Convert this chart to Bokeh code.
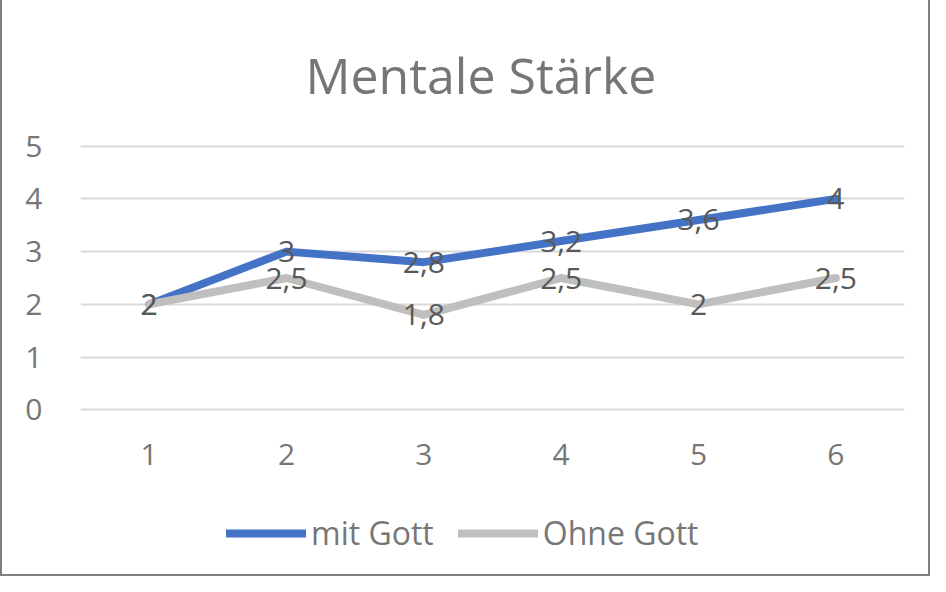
from bokeh.plotting import figure
from bokeh.models import Range1d, FixedTicker, Legend, LegendItem, ColumnDataSource
from bokeh.layouts import column
from bokeh.core.properties import value
from bokeh.embed import file_html
from bokeh.resources import INLINE

title_text = "Mentale Stärke"
categories = [1, 2, 3, 4, 5, 6]
mit_gott = [2, 3, 2.8, 3.2, 3.6, 4]
ohne_gott = [2, 2.5, 1.8, 2.5, 2, 2.5]
series_names = ["mit Gott", "Ohne Gott"]
y_ticks = [0, 1, 2, 3, 4, 5]

FONT = "Open Sans"
BLUE = "#4472C4"
GRAY = "#BFBFBF"
TXT = "#767676"
LBL = "#595959"
BORDER = "2px solid #808080"

def fmt(v):
    s = ("%g" % v)
    return s.replace(".", ",")

p = figure(width=930, height=500, output_backend="svg", toolbar_location=None,
           x_range=Range1d(0.5, 6.5), y_range=Range1d(-0.03, 5.03),
           title=title_text,
           min_border_left=78, min_border_right=28, min_border_top=144, min_border_bottom=89)
p.outline_line_color = None
p.background_fill_color = "white"
p.border_fill_color = "white"
p.styles = {"border-left": BORDER, "border-right": BORDER}

p.title.align = "left"
p.title.text_font = FONT
p.title.text_font_size = "50px"
p.title.text_font_style = "normal"
p.title.text_color = TXT
p.title.standoff = 72
p.title.offset = 225

p.xgrid.grid_line_color = None
p.ygrid.ticker = FixedTicker(ticks=y_ticks)
p.ygrid.grid_line_color = "#D9D9D9"
p.ygrid.grid_line_width = 2

for ax in (p.xaxis[0], p.yaxis[0]):
    ax.axis_line_color = None
    ax.major_tick_line_color = None
    ax.minor_tick_line_color = None
    ax.major_label_text_font = FONT
    ax.major_label_text_font_size = "30px"
    ax.major_label_text_color = TXT
p.xaxis.ticker = FixedTicker(ticks=categories)
p.yaxis.ticker = FixedTicker(ticks=y_ticks)
p.xaxis.major_label_standoff = 26
p.yaxis.major_label_standoff = 32

r1 = p.line(categories, mit_gott, line_color=BLUE, line_width=8, line_join="round", line_cap="round")
r2 = p.line(categories, ohne_gott, line_color=GRAY, line_width=8, line_join="round", line_cap="round")

src = ColumnDataSource(dict(
    x=categories + categories,
    y=mit_gott + ohne_gott,
    t=[fmt(v) for v in mit_gott] + [fmt(v) for v in ohne_gott],
))
p.text(x="x", y="y", text="t", source=src, text_align="center", text_baseline="middle",
       text_font=value(FONT), text_font_size="30px", text_color=LBL)

# legend strip below the chart (proxy renderers lie outside the visible range)
p2 = figure(width=930, height=76, output_backend="svg", toolbar_location=None,
            x_range=Range1d(0, 1), y_range=Range1d(0, 1),
            min_border=0)
p2.axis.visible = False
p2.grid.visible = False
p2.outline_line_color = None
p2.border_fill_color = "white"
p2.styles = {"border-left": BORDER, "border-right": BORDER, "border-bottom": BORDER}
l1 = p2.line(categories[:2], [-10, -10], line_color=BLUE, line_width=8, line_cap="round")
l2 = p2.line(categories[:2], [-10, -10], line_color=GRAY, line_width=8, line_cap="round")

legend = Legend(items=[LegendItem(label=series_names[0], renderers=[l1]),
                       LegendItem(label=series_names[1], renderers=[l2])],
                orientation="horizontal", location=(146, 22),
                glyph_width=80, glyph_height=20, label_standoff=5, spacing=24,
                label_text_font=FONT, label_text_font_size="32px", label_text_color=TXT,
                border_line_color=None, background_fill_alpha=0, padding=0, margin=0)
p2.add_layout(legend, "center")

open("out.html", "w").write(file_html(column(p, p2, spacing=0), INLINE))
